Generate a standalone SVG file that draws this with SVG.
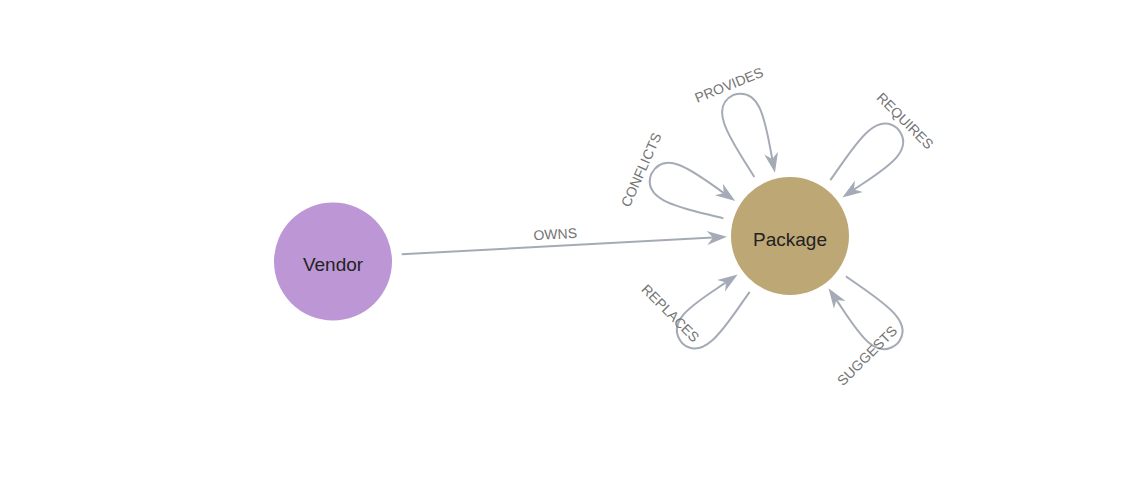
<svg xmlns="http://www.w3.org/2000/svg" width="1123" height="498" viewBox="0 0 1123 498">
<style>
.edge{fill:none;stroke:#A5ABB6;stroke-width:2;marker-end:url(#arrow)}
.elabel{font-family:"Liberation Sans",Arial,sans-serif;font-size:14px;fill:#747474;text-anchor:middle}
.nlabel{font-family:"Liberation Sans",Arial,sans-serif;font-size:19px;fill:#222;text-anchor:middle}
</style>
<defs>
<marker id="arrow" markerUnits="userSpaceOnUse" markerWidth="30" markerHeight="30" viewBox="-10 -10 30 20" refX="0" refY="0" orient="auto" overflow="visible">
<path d="M14,0 L-6,-7 L0,0 L-6,7 Z" fill="#A5ABB6"/>
</marker>
</defs>
<rect width="1123" height="498" fill="#fff"/>
<g id="connectors">
<g id="owns">
<path class="edge" d="M401.7,254.3 L713,237.6"/>
<text class="elabel" transform="translate(555.5,239) rotate(-3.08)">OWNS</text>
</g>
<g id="conflicts" transform="translate(790,236) rotate(-156)">
<path class="edge" d="M68,-11 C105,-17 150,-30 152,0 C150,30 112,19 78,12.4"/>
<text class="elabel" transform="translate(158,0) rotate(90)">CONFLICTS</text>
</g>
<g id="provides" transform="translate(790,236) rotate(-112)">
<path class="edge" d="M68,-11 C105,-17 150,-30 152,0 C150,30 112,19 78,12.4"/>
<text class="elabel" transform="translate(158,0) rotate(90)">PROVIDES</text>
</g>
<g id="requires" transform="translate(790,236) rotate(-45)">
<path class="edge" d="M68,-11 C105,-17 150,-30 152,0 C150,30 112,19 78,12.4"/>
<text class="elabel" transform="translate(158,0) rotate(90)">REQUIRES</text>
</g>
<g id="suggests" transform="translate(790,236) rotate(45)">
<path class="edge" d="M68,-11 C105,-17 150,-30 152,0 C150,30 112,19 78,12.4"/>
<text class="elabel" transform="translate(144,30) rotate(-90)">SUGGESTS</text>
</g>
<g id="replaces" transform="translate(790,236) rotate(135)">
<path class="edge" d="M68,-11 C105,-17 150,-30 152,0 C150,30 112,19 78,12.4"/>
<text class="elabel" transform="translate(144,30) rotate(-90)">REPLACES</text>
</g>
</g>
<g id="node-vendor">
<circle cx="333" cy="261.5" r="59" fill="#BD96D6"/>
<text class="nlabel" x="333" y="271">Vendor</text>
</g>
<g id="node-package">
<circle cx="790" cy="236" r="59" fill="#BDA775"/>
<text class="nlabel" x="790" y="246">Package</text>
</g>
</svg>
